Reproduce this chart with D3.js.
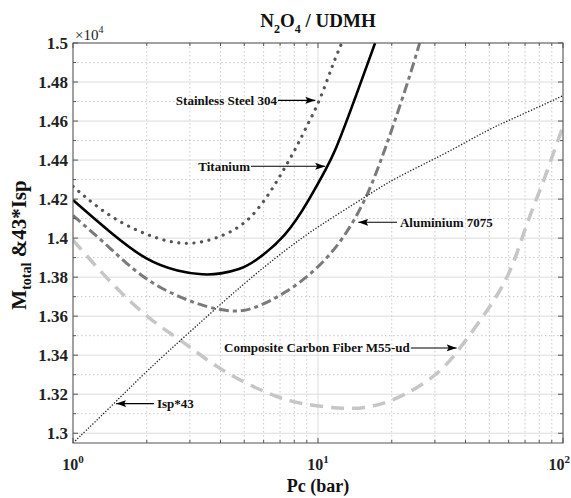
<!DOCTYPE html>
<html><head><meta charset="utf-8">
<script src="https://cdn.jsdelivr.net/npm/d3@7"></script>
<style>body{margin:0;background:#fff}svg{display:block}</style>
</head><body><svg id="c" width="571" height="498"></svg>
<script>
// ---- data (M_total and 43*Isp, in units of 1e4) ----
const pcStainless = [1, 1.42, 2.26, 3.1, 4.1, 5.12, 6.17, 7.2, 8.18, 8.98, 10.2, 11.5, 12.5];
const mStainless  = [1.4265, 1.410, 1.3985, 1.3963, 1.401, 1.4077, 1.4204, 1.4344, 1.4467, 1.4572, 1.4706, 1.4893, 1.5];

const pcTitanium = [1, 1.42, 2, 2.7, 3.4, 4, 4.8, 5.45, 7.45, 9.27, 10.85, 11.7, 13.5, 17.1];
const mTitanium  = [1.4195, 1.4028, 1.3882, 1.3828, 1.3811, 1.3816, 1.384, 1.3873, 1.401, 1.4204, 1.436, 1.4440, 1.4643, 1.5];

const pcAluminium = [1, 1.42, 2, 3.3, 4.5, 5.45, 7.45, 9.9, 12.7, 15.8, 18.5, 20.9, 23.7, 26];
const mAluminium  = [1.4116, 1.395, 1.3771, 1.3651, 1.362, 1.3634, 1.3721, 1.3839, 1.3994, 1.4204, 1.4432, 1.4625, 1.483, 1.5];

const pcComposite = [1, 1.46, 2.12, 2.82, 3.98, 6.36, 8.4, 13.1, 16.8, 22.3, 31.5, 39, 50.5, 58.9, 64.7, 71.1, 78.1, 85.8, 94.2, 100];
const mComposite  = [1.399, 1.3754, 1.3568, 1.347, 1.3322, 1.3196, 1.3149, 1.3122, 1.3133, 1.3189, 1.3305, 1.3454, 1.3649, 1.3788, 1.3916, 1.4072, 1.4204, 1.4335, 1.4484, 1.457];

const pcIsp = [1, 1.48, 2, 3, 5, 7.45, 10, 15.8, 20, 33.5, 50, 62.8, 100];
const mIsp  = [1.295, 1.3155, 1.332, 1.352, 1.377, 1.3945, 1.406, 1.4215, 1.43, 1.4435, 1.456, 1.4613, 1.473];

const yTicks = [1.3, 1.32, 1.34, 1.36, 1.38, 1.4, 1.42, 1.44, 1.46, 1.48, 1.5];
const yTickLabels = ["1.3", "1.32", "1.34", "1.36", "1.38", "1.4", "1.42", "1.44", "1.46", "1.48", "1.5"];
const yMinor = [1.31, 1.33, 1.35, 1.37, 1.39, 1.41, 1.43, 1.45, 1.47, 1.49];
const xTicks = [1, 10, 100];
const xTickExp = ["0", "1", "2"];
const xMinor = [2, 3, 4, 5, 6, 7, 8, 9, 20, 30, 40, 50, 60, 70, 80, 90];

const titleText = ["N", "2", "O", "4", " / UDMH"];
const xLabel = "Pc (bar)";
const yLabelParts = ["M", "total", " &43*Isp"];

const annotations = [
  {text: "Stainless Steel 304", tipPc: 9.75, textPc: 6.8, v: 1.4706, side: "left"},
  {text: "Titanium", tipPc: 10.7, textPc: 5.28, v: 1.4368, side: "left"},
  {text: "Aluminium 7075", tipPc: 14.6, textPc: 21.6, v: 1.4081, side: "right"},
  {text: "Composite Carbon Fiber M55-ud", tipPc: 36.8, textPc: 23.7, v: 1.3437, side: "left"},
  {text: "Isp*43", tipPc: 1.5, textPc: 2.2, v: 1.3152, side: "right"}
];

// ---- layout ----
const L = 73, R = 563, T = 43, B = 443;
const svg = d3.select("#c");
const x = d3.scaleLog().domain([1, 100]).range([L, R]);
const y = d3.scaleLinear().domain([1.295, 1.5]).range([B, T]);
const serif = "'Liberation Serif','Times New Roman',serif";

svg.append("rect").attr("width", 571).attr("height", 498).attr("fill", "#fff");

const defs = svg.append("defs");
defs.append("clipPath").attr("id", "clip").append("rect")
  .attr("x", L).attr("y", T).attr("width", R - L).attr("height", B - T);
defs.append("marker").attr("id", "arr").attr("viewBox", "0 -4 10 8")
  .attr("refX", 10).attr("refY", 0).attr("markerWidth", 10).attr("markerHeight", 8)
  .attr("markerUnits", "userSpaceOnUse").attr("orient", "auto")
  .append("path").attr("d", "M0,-3.5L10,0L0,3.5L2,0Z").attr("fill", "#000");

// grid
const grid = svg.append("g");
grid.selectAll(".ym").data(yMinor).join("line")
  .attr("x1", L).attr("x2", R).attr("y1", d => y(d)).attr("y2", d => y(d))
  .attr("stroke", "#c8c8c8").attr("stroke-width", 1).attr("stroke-dasharray", "1.5,2.5");
grid.selectAll(".xm").data(xMinor).join("line")
  .attr("y1", T).attr("y2", B).attr("x1", d => x(d)).attr("x2", d => x(d))
  .attr("stroke", "#c8c8c8").attr("stroke-width", 1).attr("stroke-dasharray", "1.5,2.5");
grid.selectAll(".yM").data(yTicks).join("line")
  .attr("x1", L).attr("x2", R).attr("y1", d => y(d)).attr("y2", d => y(d))
  .attr("stroke", "#dcdcdc").attr("stroke-width", 1);
grid.selectAll(".xM").data(xTicks).join("line")
  .attr("y1", T).attr("y2", B).attr("x1", d => x(d)).attr("x2", d => x(d))
  .attr("stroke", "#dcdcdc").attr("stroke-width", 1);

// curves
const line = d3.line().x(d => x(d[0])).y(d => y(d[1])).curve(d3.curveBasis);
const zip = (a, b) => a.map((p, i) => [p, b[i]]);
const curves = svg.append("g").attr("clip-path", "url(#clip)");
function draw(pc, m, stroke, w, dash, cap) {
  curves.append("path").attr("d", line(zip(pc, m))).attr("fill", "none")
    .attr("stroke", stroke).attr("stroke-width", w)
    .attr("stroke-dasharray", dash).attr("stroke-linecap", cap || "butt");
}
draw(pcComposite, mComposite, "#c6c6c6", 3.5, "13,8");
draw(pcAluminium, mAluminium, "#7a7a7a", 3, "10,4,4,4");
draw(pcIsp, mIsp, "#222", 1.3, "1.3,1.7");
draw(pcStainless, mStainless, "#555", 3.2, "0.1,7.5", "round");
draw(pcTitanium, mTitanium, "#000", 2.6, null);

// frame & ticks
const ax = svg.append("g").attr("stroke", "#555").attr("stroke-width", 1);
ax.append("rect").attr("x", L).attr("y", T).attr("width", R - L).attr("height", B - T).attr("fill", "none");
function yt(vals, len) {
  ax.selectAll(null).data(vals).join("line").attr("x1", L).attr("x2", L + len)
    .attr("y1", d => y(d)).attr("y2", d => y(d));
  ax.selectAll(null).data(vals).join("line").attr("x1", R).attr("x2", R - len)
    .attr("y1", d => y(d)).attr("y2", d => y(d));
}
function xt(vals, len) {
  ax.selectAll(null).data(vals).join("line").attr("y1", B).attr("y2", B - len)
    .attr("x1", d => x(d)).attr("x2", d => x(d));
  ax.selectAll(null).data(vals).join("line").attr("y1", T).attr("y2", T + len)
    .attr("x1", d => x(d)).attr("x2", d => x(d));
}
yt(yTicks, 5); yt(yMinor, 3); xt(xTicks, 5); xt(xMinor, 3);

// y tick labels
svg.append("g").selectAll("text").data(yTicks).join("text")
  .attr("x", L - 5).attr("y", d => y(d)).attr("dy", "0.35em")
  .attr("text-anchor", "end").attr("font-family", serif).attr("font-weight", "bold")
  .attr("font-size", 17).attr("fill", "#222").text((d, i) => yTickLabels[i]);

// x tick labels
const xl = svg.append("g").selectAll("text").data(xTicks).join("text")
  .attr("x", d => d === 100 ? 570 : x(d)).attr("y", 470)
  .attr("text-anchor", d => d === 100 ? "end" : "middle")
  .attr("font-family", serif).attr("font-weight", "bold").attr("font-size", 16).attr("fill", "#222");
xl.append("tspan").text("10");
xl.append("tspan").attr("font-size", 11).attr("dy", -7).text((d, i) => xTickExp[i]);

// exponent
const ex = svg.append("text").attr("x", 75).attr("y", 40).attr("font-family", serif)
  .attr("font-size", 15).attr("fill", "#222");
ex.append("tspan").text("\u00d710");
ex.append("tspan").attr("font-size", 10).attr("dy", -7).text("4");

// title
const tt = svg.append("text").attr("x", (L + R) / 2).attr("y", 27).attr("text-anchor", "middle")
  .attr("font-family", serif).attr("font-weight", "bold").attr("font-size", 19).attr("fill", "#111");
tt.append("tspan").text(titleText[0]);
tt.append("tspan").attr("font-size", 12).attr("dy", 6).text(titleText[1]);
tt.append("tspan").attr("dy", -6).text(titleText[2]);
tt.append("tspan").attr("font-size", 12).attr("dy", 6).text(titleText[3]);
tt.append("tspan").attr("dy", -6).text(titleText[4]);

// x label
svg.append("text").attr("x", (L + R) / 2).attr("y", 492).attr("text-anchor", "middle")
  .attr("font-family", serif).attr("font-weight", "bold").attr("font-size", 18).attr("fill", "#111")
  .text(xLabel);

// y label
const yl = svg.append("text").attr("transform", `translate(26,${(T + B) / 2 + 2}) rotate(-90)`)
  .attr("text-anchor", "middle").attr("font-family", serif).attr("font-weight", "bold")
  .attr("font-size", 21).attr("fill", "#111");
yl.append("tspan").text(yLabelParts[0]);
yl.append("tspan").attr("font-size", 14).attr("dy", 5).text(yLabelParts[1]);
yl.append("tspan").attr("dy", -5).text(yLabelParts[2]);

// annotations
const an = svg.append("g");
annotations.forEach(a => {
  const yy = y(a.v), tx = x(a.textPc), tip = x(a.tipPc);
  an.append("text").attr("x", tx).attr("y", yy).attr("dy", "0.33em")
    .attr("text-anchor", a.side === "left" ? "end" : "start")
    .attr("font-family", serif).attr("font-weight", "bold").attr("font-size", 13).attr("fill", "#111")
    .text(a.text);
  const x0 = a.side === "left" ? tx + 1 : tx - 3;
  an.append("line").attr("x1", x0).attr("x2", tip).attr("y1", yy).attr("y2", yy)
    .attr("stroke", "#000").attr("stroke-width", 1.1).attr("marker-end", "url(#arr)");
});
</script></body></html>
